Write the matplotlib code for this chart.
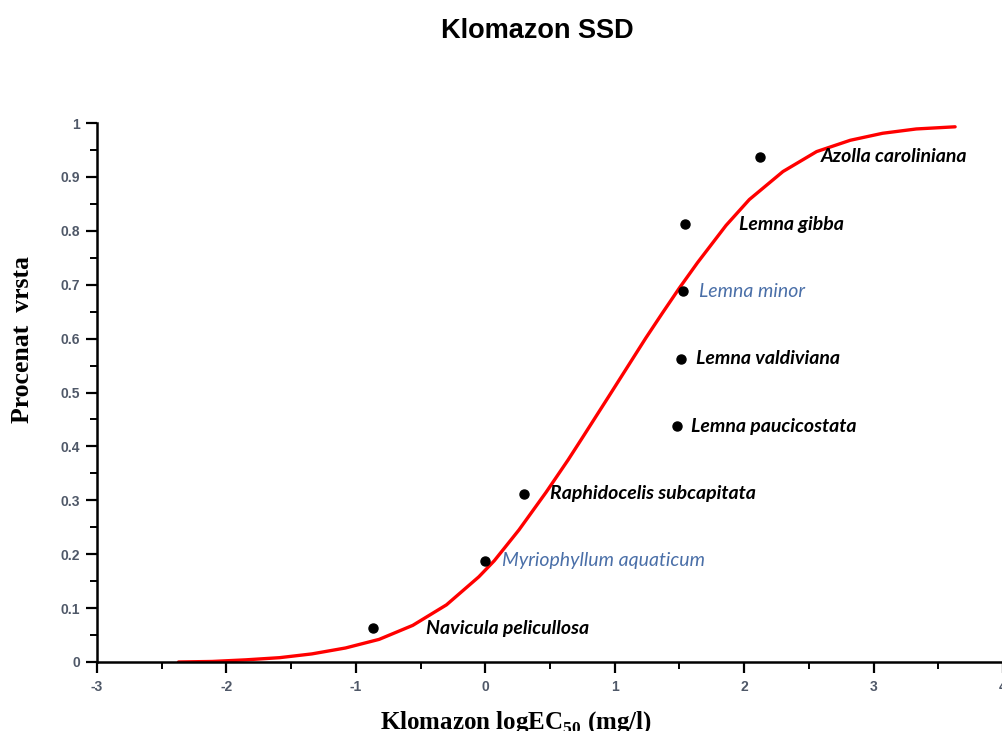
import matplotlib
matplotlib.use("Agg")
import matplotlib.pyplot as plt
from matplotlib.ticker import MultipleLocator

plt.rcParams["axes.unicode_minus"] = False
plt.rcParams["mathtext.fontset"] = "custom"
plt.rcParams["mathtext.rm"] = "Liberation Serif"
plt.rcParams["mathtext.bf"] = "Liberation Serif:bold"

# Species sensitivity data: log EC50 (mg/l) and cumulative fraction
species = [
    "Navicula pelicullosa",
    "Myriophyllum aquaticum",
    "Raphidocelis subcapitata",
    "Lemna paucicostata",
    "Lemna valdiviana",
    "Lemna minor",
    "Lemna gibba",
    "Azolla caroliniana",
]
log_ec50 = [-0.87, 0.00, 0.30, 1.48, 1.51, 1.53, 1.54, 2.12]
fraction = [0.0625, 0.1875, 0.3125, 0.4375, 0.5625, 0.6875, 0.8125, 0.9375]
label_x = [-0.46, 0.13, 0.50, 1.59, 1.63, 1.65, 1.96, 2.59]
label_color = ["black", "#4a6fa8", "black", "black", "black", "#4a6fa8", "black", "black"]

# Fitted SSD curve
curve_x = [-2.37, -2.11, -1.85, -1.59, -1.34, -1.08, -0.82, -0.56, -0.30, -0.05,
           0.07, 0.26, 0.47, 0.64, 0.75, 0.96, 1.10, 1.24, 1.37, 1.50,
           1.64, 1.86, 2.04, 2.30, 2.56, 2.82, 3.07, 3.33, 3.63]
curve_y = [0.000, 0.001, 0.004, 0.008, 0.015, 0.026, 0.042, 0.068, 0.106, 0.158,
           0.188, 0.245, 0.315, 0.375, 0.416, 0.495, 0.548, 0.601, 0.648, 0.694,
           0.741, 0.810, 0.858, 0.910, 0.947, 0.968, 0.981, 0.989, 0.993]

x_ticks = [-3, -2, -1, 0, 1, 2, 3, 4]
y_ticks = [0, 0.1, 0.2, 0.3, 0.4, 0.5, 0.6, 0.7, 0.8, 0.9, 1]
y_tick_labels = ["0", "0.1", "0.2", "0.3", "0.4", "0.5", "0.6", "0.7", "0.8", "0.9", "1"]

fig = plt.figure(figsize=(10.03, 7.31), dpi=100)
ax = fig.add_axes([0.0967, 0.0944, 0.9033, 0.7373])

ax.plot(curve_x, curve_y, color="red", lw=2.4, solid_capstyle="round",
        solid_joinstyle="round", zorder=2)
ax.plot(log_ec50, fraction, "o", color="black", ms=6.5, zorder=3)

for name, lx, fy, c in zip(species, label_x, fraction, label_color):
    weight = "normal" if c != "black" else "bold"
    ax.text(lx, fy, name, color=c, fontsize=14, style="italic", weight=weight,
            family="Lato", va="center", ha="left")

ax.set_xlim(-3, 4)
ax.set_ylim(0, 1)
ax.set_xticks(x_ticks)
ax.set_yticks(y_ticks)
ax.set_yticklabels(y_tick_labels)
ax.xaxis.set_minor_locator(MultipleLocator(0.5))
ax.yaxis.set_minor_locator(MultipleLocator(0.05))

for s in ["top", "right"]:
    ax.spines[s].set_visible(False)
for s in ["left", "bottom"]:
    ax.spines[s].set_linewidth(1.8)
    ax.spines[s].set_clip_on(False)

tick_color = "#4f5868"
ax.tick_params(which="major", direction="out", length=8, width=1.6,
               labelsize=10, labelcolor=tick_color)
ax.tick_params(which="minor", direction="out", length=5, width=1.4)
for lab in ax.get_xticklabels() + ax.get_yticklabels():
    lab.set_family("Liberation Sans")
    lab.set_weight("bold")
ax.tick_params(axis="x", pad=5)
ax.tick_params(axis="y", pad=4)

fig.text(0.536, 0.958, "Klomazon SSD", ha="center", va="center",
         fontsize=19.5, weight="bold", family="Liberation Sans")
fig.text(0.022, 0.535, "Procenat  vrsta", rotation=90, ha="center", va="center",
         fontsize=18.5, weight="bold", family="Liberation Serif")
fig.text(0.515, 0.012, "Klomazon logEC$_{\\mathbf{50}}$ (mg/l)", ha="center", va="center",
         fontsize=18, weight="bold", family="Liberation Serif")

fig.savefig("out.png", dpi=100, facecolor="white")
